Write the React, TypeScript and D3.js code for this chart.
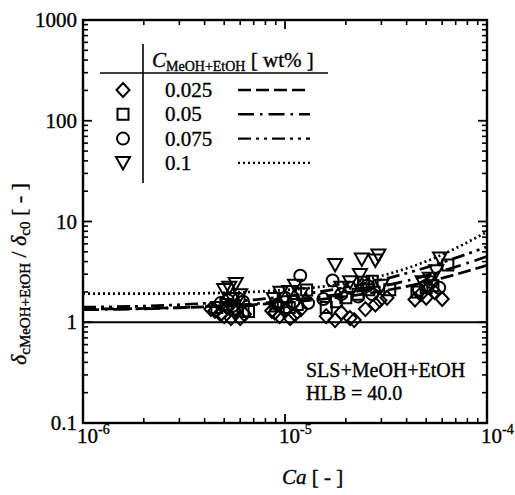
import React from 'react';
import * as d3 from 'd3';

// fitted curves at a few Ca values
const caGrid = [1e-6, 3.16e-6, 1e-5, 1.78e-5, 3.16e-5, 5.62e-5, 1e-4];
const fit025 = [1.35, 1.40, 1.57, 1.75, 2.07, 2.65, 3.68];
const fit05 = [1.33, 1.40, 1.62, 1.87, 2.31, 3.10, 4.50];
const fit075 = [1.41, 1.50, 1.80, 2.13, 2.71, 3.76, 5.62];
const fit1 = [1.92, 1.93, 2.09, 2.35, 2.97, 4.43, 7.9];

// measured points
const ca025 = [4.3e-6, 4.5e-6, 4.8e-6, 5.0e-6, 5.2e-6, 5.4e-6, 5.7e-6, 6.0e-6, 6.3e-6, 8.6e-6, 8.9e-6, 9.4e-6, 1.0e-5, 1.06e-5, 1.12e-5, 1.2e-5, 1.6e-5, 1.77e-5, 1.9e-5, 2.1e-5, 2.2e-5, 2.5e-5, 2.8e-5, 2.95e-5, 3.2e-5, 4.4e-5, 4.7e-5, 5.0e-5, 5.5e-5, 6.0e-5];
const d025 = [1.35, 1.3, 1.2, 1.15, 1.4, 1.1, 1.25, 1.1, 1.2, 1.3, 1.25, 1.15, 1.3, 1.1, 1.2, 1.35, 1.15, 1.05, 1.25, 1.1, 1.05, 1.35, 1.5, 1.65, 1.75, 1.68, 1.9, 1.75, 2.0, 1.7];

const ca05 = [4.6e-6, 5.1e-6, 5.6e-6, 6.2e-6, 6.6e-6, 9.0e-6, 9.8e-6, 1.05e-5, 1.15e-5, 1.28e-5, 1.6e-5, 1.8e-5, 2.0e-5, 2.3e-5, 2.45e-5, 2.6e-5, 2.7e-5, 3.3e-5, 4.5e-5, 5.0e-5, 5.4e-5, 6.4e-5];
const d05 = [1.4, 1.5, 1.35, 1.3, 1.28, 1.45, 1.6, 1.4, 1.5, 2.09, 1.4, 1.6, 1.75, 1.9, 2.5, 2.1, 2.55, 2.1, 2.0, 2.2, 2.3, 3.7];

const ca075 = [4.8e-6, 5.2e-6, 5.5e-6, 5.9e-6, 6.2e-6, 9.2e-6, 1.0e-5, 1.1e-5, 1.19e-5, 1.3e-5, 1.55e-5, 1.72e-5, 1.9e-5, 2.1e-5, 2.3e-5, 2.55e-5, 2.7e-5, 4.6e-5, 5.0e-5, 5.3e-5, 5.8e-5];
const d075 = [1.55, 1.66, 1.45, 1.7, 1.6, 1.5, 1.75, 1.6, 2.9, 1.55, 1.7, 2.6, 1.9, 2.2, 1.8, 2.3, 1.9, 2.1, 2.3, 2.5, 2.2];

const ca1 = [5.0e-6, 5.3e-6, 5.5e-6, 5.7e-6, 6.0e-6, 8.8e-6, 9.5e-6, 1.05e-5, 1.12e-5, 1.2e-5, 1.77e-5, 1.9e-5, 2.1e-5, 2.35e-5, 2.4e-5, 2.8e-5, 2.9e-5, 3.0e-5, 4.8e-5, 5.2e-5, 5.6e-5, 5.85e-5];
const d1 = [2.09, 2.2, 1.7, 2.4, 1.85, 1.7, 1.96, 2.0, 2.3, 1.9, 3.7, 2.2, 2.5, 2.94, 4.2, 4.1, 4.6, 2.3, 2.5, 2.7, 3.2, 4.3];

const legendLabels = ['0.025', '0.05', '0.075', '0.1'];
const yTicks = [0.1, 1, 10, 100, 1000];
const yTickLabels = ['0.1', '1', '10', '100', '1000'];
const xTicks = [1e-6, 1e-5, 1e-4];
const xTickExp = ['-6', '-5', '-4'];

const font = '"Liberation Serif", "Times New Roman", serif';

const shapes: Record<string, string> = {
  diamond: 'M0,-7L6.5,0L0,7L-6.5,0Z',
  square: 'M-5.5,-5.5H5.5V5.5H-5.5Z',
  circle: d3.symbol(d3.symbolCircle, 113)() as string,
  triangle: 'M-7,-6L7,-6L0,6.5Z',
};

const series = [
  { ca: ca025, d: d025, shape: 'diamond', fit: fit025, dash: '13,5' },
  { ca: ca05, d: d05, shape: 'square', fit: fit05, dash: '16,6,2.5,6' },
  { ca: ca075, d: d075, shape: 'circle', fit: fit075, dash: '13,5,3,5,3,5' },
  { ca: ca1, d: d1, shape: 'triangle', fit: fit1, dash: '2,3' },
];

export default function App() {
  const margin = { left: 83, top: 20, right: 28, bottom: 72 };
  const W = 515, H = 495;
  const x = d3.scaleLog().domain([1e-6, 1e-4]).range([margin.left, W - margin.right]);
  const y = d3.scaleLog().domain([0.1, 1000]).range([H - margin.bottom, margin.top]);
  const [x0, x1] = x.range();
  const [y0, y1] = y.range();

  const line = d3.line<number>()
    .x((_, i) => x(caGrid[i]))
    .y(d => y(d))
    .curve(d3.curveMonotoneX);

  const minorY: number[] = [];
  for (let e = -1; e < 3; e++) for (let k = 2; k < 10; k++) minorY.push(k * Math.pow(10, e));
  const minorX: number[] = [];
  for (let e = -6; e < -4; e++) for (let k = 2; k < 10; k++) minorX.push(k * Math.pow(10, e));

  const ink = { stroke: '#000', strokeWidth: 0.35 };

  return (
    <svg width={W} height={H} style={{ position: 'absolute', left: 0, top: 0, background: '#fff' }} fontFamily={font}>
      <defs>
        <clipPath id="plot">
          <rect x={x0} y={y1} width={x1 - x0} height={y0 - y1} />
        </clipPath>
      </defs>

      {/* reference line at 1 */}
      <line x1={x0} x2={x1} y1={y(1)} y2={y(1)} stroke="#000" strokeWidth={2} />

      <g clipPath="url(#plot)">
        {series.map((s, i) => (
          <path key={i} d={line(s.fit) as string} fill="none" stroke="#000" strokeWidth={2.7} strokeDasharray={s.dash} />
        ))}
        {series.map((s, i) => (
          <g key={'m' + i}>
            {s.ca.map((c, j) => (
              <path key={j} d={shapes[s.shape]} transform={`translate(${x(c)},${y(s.d[j])})`}
                fill="none" stroke="#000" strokeWidth={2} />
            ))}
          </g>
        ))}
      </g>

      {/* frame + ticks */}
      <rect x={x0} y={y1} width={x1 - x0} height={y0 - y1} fill="none" stroke="#000" strokeWidth={2.4} />
      {yTicks.map(t => (
        <g key={'yt' + t}>
          <line x1={x0} x2={x0 + 9} y1={y(t)} y2={y(t)} stroke="#000" strokeWidth={1.8} />
          <line x1={x1} x2={x1 - 9} y1={y(t)} y2={y(t)} stroke="#000" strokeWidth={1.8} />
        </g>
      ))}
      {minorY.map(t => (
        <g key={'ym' + t}>
          <line x1={x0} x2={x0 + 5} y1={y(t)} y2={y(t)} stroke="#000" strokeWidth={1.6} />
          <line x1={x1} x2={x1 - 5} y1={y(t)} y2={y(t)} stroke="#000" strokeWidth={1.6} />
        </g>
      ))}
      {xTicks.map(t => (
        <g key={'xt' + t}>
          <line x1={x(t)} x2={x(t)} y1={y0} y2={y0 - 9} stroke="#000" strokeWidth={1.8} />
          <line x1={x(t)} x2={x(t)} y1={y1} y2={y1 + 9} stroke="#000" strokeWidth={1.8} />
        </g>
      ))}
      {minorX.map(t => (
        <g key={'xm' + t}>
          <line x1={x(t)} x2={x(t)} y1={y0} y2={y0 - 5} stroke="#000" strokeWidth={1.6} />
          <line x1={x(t)} x2={x(t)} y1={y1} y2={y1 + 5} stroke="#000" strokeWidth={1.6} />
        </g>
      ))}

      {/* tick labels */}
      {yTicks.map((t, i) => (
        <text key={'yl' + t} x={x0 - 6} y={y(t) + 7} textAnchor="end" fontSize={21} {...ink}>{yTickLabels[i]}</text>
      ))}
      {xTicks.map((t, i) => (
        <text key={'xl' + t} x={x(t) - 6} y={y0 + 20} fontSize={21} {...ink}>
          10<tspan fontSize={14} dy={-9}>{xTickExp[i]}</tspan>
        </text>
      ))}

      {/* axis titles */}
      <text x={282} y={484} fontSize={21} {...ink}>
        <tspan fontStyle="italic">Ca</tspan> [ - ]
      </text>
      <text transform={`translate(26,${274}) rotate(-90)`} textAnchor="middle" fontSize={22} {...ink}>
        <tspan fontStyle="italic">δ</tspan>
        <tspan fontSize={15} dy={4}>cMeOH+EtOH</tspan>
        <tspan dy={-4}> / </tspan>
        <tspan fontStyle="italic">δ</tspan>
        <tspan fontSize={15} dy={4}>c0</tspan>
        <tspan dy={-4}>{'  [ - ]'}</tspan>
      </text>

      {/* legend */}
      <line x1={143} x2={143} y1={44} y2={183} stroke="#000" strokeWidth={1.6} />
      <line x1={100} x2={328} y1={73} y2={73} stroke="#000" strokeWidth={1.6} />
      <text x={152} y={67} fontSize={21} {...ink}>
        <tspan fontStyle="italic">C</tspan>
        <tspan fontSize={14} dy={4}>MeOH+EtOH</tspan>
        <tspan dy={-4}> [ wt% ]</tspan>
      </text>
      {series.map((s, i) => {
        const cy = 90 + i * 24.3;
        return (
          <g key={'lg' + i}>
            <path d={shapes[s.shape]} transform={`translate(123,${cy})`} fill="none" stroke="#000" strokeWidth={2} />
            <text x={165} y={cy + 7} fontSize={21} {...ink}>{legendLabels[i]}</text>
            <line x1={238} x2={310} y1={cy} y2={cy} stroke="#000" strokeWidth={2.4} strokeDasharray={s.dash} />
          </g>
        );
      })}

      {/* annotation */}
      <text x={306} y={377} fontSize={20} {...ink}>SLS+MeOH+EtOH</text>
      <text x={306} y={400} fontSize={20} {...ink}>HLB = 40.0</text>
    </svg>
  );
}
